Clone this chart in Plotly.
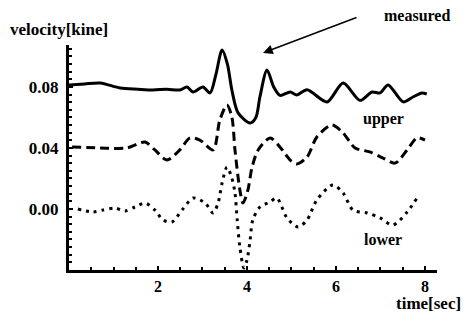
import plotly.graph_objects as go

# measured (solid)
t_measured = [0.0, 0.35, 0.70, 1.15, 1.55, 1.89, 2.20, 2.49, 2.65, 2.79, 3.01, 3.17,
              3.30, 3.44, 3.56, 3.66, 3.80, 4.07, 4.20, 4.29, 4.45, 4.60, 4.74, 4.97,
              5.12, 5.35, 5.80, 6.16, 6.54, 6.81, 6.99, 7.17, 7.51, 7.73, 7.93, 8.04]
v_measured = [0.0813, 0.0820, 0.0826, 0.0793, 0.0785, 0.0780, 0.0785, 0.0780, 0.0800, 0.0767, 0.0800, 0.0761,
              0.0880, 0.1043, 0.0950, 0.0780, 0.0630, 0.0564, 0.0600, 0.0734, 0.0911, 0.0800, 0.0745, 0.0767,
              0.0748, 0.0782, 0.0702, 0.0826, 0.0712, 0.0767, 0.0761, 0.0813, 0.0702, 0.0734, 0.0761, 0.0754]

# upper (dashed)
t_upper = [0.07, 0.70, 1.30, 1.71, 1.93, 2.20, 2.49, 2.72, 2.94, 3.24, 3.39, 3.55,
           3.66, 3.73, 3.84, 3.91, 4.02, 4.11, 4.25, 4.52, 4.74, 4.97, 5.12, 5.35,
           5.57, 5.91, 6.16, 6.43, 6.76, 7.06, 7.33, 7.60, 7.82, 8.00]
v_upper = [0.0407, 0.0400, 0.0400, 0.0439, 0.0387, 0.0321, 0.0387, 0.0466, 0.0452, 0.0387, 0.0584, 0.0682,
           0.0603, 0.0387, 0.0124, 0.0039, 0.0124, 0.0269, 0.0387, 0.0466, 0.0407, 0.0321, 0.0295, 0.0341,
           0.0472, 0.0551, 0.0498, 0.0400, 0.0374, 0.0334, 0.0301, 0.0387, 0.0466, 0.0452]

# lower (dotted)
t_lower = [0.20, 0.54, 0.76, 1.03, 1.26, 1.48, 1.71, 1.93, 2.11, 2.31, 2.54, 2.79,
           3.06, 3.24, 3.35, 3.44, 3.55, 3.66, 3.73, 3.78, 3.84, 3.93, 4.00, 4.07,
           4.13, 4.29, 4.52, 4.67, 4.90, 5.15, 5.35, 5.57, 5.93, 6.16, 6.38, 6.70,
           6.99, 7.28, 7.60, 7.82]
v_lower = [0.0000, -0.0020, -0.0007, 0.0006, -0.0013, 0.0013, 0.0039, -0.0007, -0.0072, -0.0086, -0.0007, 0.0072,
           0.0039, -0.0026, 0.0039, 0.0170, 0.0275, 0.0203, 0.0105, -0.0072, -0.0250, -0.0387, -0.0335, -0.0204,
           -0.0072, 0.0013, 0.0046, 0.0072, -0.0059, -0.0118, -0.0072, 0.0059, 0.0157, 0.0105, -0.0007, -0.0026,
           -0.0059, -0.0105, -0.0020, 0.0072]

x_tickvals = [2, 4, 6, 8]
x_ticktext = ["2", "4", "6", "8"]
y_tickvals = [0.0, 0.04, 0.08]
y_ticktext = ["0.00", "0.04", "0.08"]

FONT = "Liberation Serif, Times New Roman, serif"

fig = go.Figure()
fig.add_trace(go.Scatter(x=t_measured, y=v_measured, mode="lines", name="measured",
                         line=dict(color="black", width=3, shape="spline", smoothing=0.8)))
fig.add_trace(go.Scatter(x=t_upper, y=v_upper, mode="lines", name="upper",
                         line=dict(color="black", width=3, shape="spline", smoothing=0.8, dash="9px,5px")))
fig.add_trace(go.Scatter(x=t_lower, y=v_lower, mode="lines", name="lower",
                         line=dict(color="black", width=3, shape="spline", smoothing=0.8, dash="3px,5px")))

fig.update_layout(
    width=466, height=313,
    margin=dict(l=69, r=29, t=45, b=43),
    plot_bgcolor="white", paper_bgcolor="white",
    showlegend=False,
    font=dict(family=FONT, color="black"),
)

fig.update_xaxes(
    range=[0, 8.27], tickmode="array", tickvals=x_tickvals, ticktext=x_ticktext,
    ticks="inside", ticklen=4, tickwidth=2, tickcolor="black",
    showline=True, linewidth=3, linecolor="black",
    showgrid=False, zeroline=False,
    minor=dict(tick0=0, dtick=0.5, ticks="inside", ticklen=3, tickwidth=2, tickcolor="black", showgrid=False),
    tickfont=dict(family=FONT, size=16, color="black", weight="bold"),
)
fig.update_yaxes(
    range=[-0.04, 0.1075], tickmode="array", tickvals=y_tickvals, ticktext=y_ticktext,
    ticks="inside", ticklen=4, tickwidth=2, tickcolor="black",
    showline=True, linewidth=3, linecolor="black",
    showgrid=False, zeroline=False,
    minor=dict(tick0=0, dtick=0.005, ticks="inside", ticklen=3, tickwidth=2, tickcolor="black", showgrid=False),
    tickfont=dict(family=FONT, size=17, color="black", weight="bold"),
    ticklabelstandoff=4,
)

lbl = dict(family=FONT, size=16, color="black", weight="bold")
fig.add_annotation(text="velocity[kine]", xref="paper", yref="paper", x=-0.166, y=1.071,
                   xanchor="left", yanchor="middle", showarrow=False,
                   font=dict(family=FONT, size=17, color="black", weight="bold"))
fig.add_annotation(text="time[sec]", xref="paper", yref="paper", x=1.071, y=-0.147,
                   xanchor="right", yanchor="middle", showarrow=False,
                   font=dict(family=FONT, size=17, color="black", weight="bold"))
fig.add_annotation(text="measured", xref="paper", yref="paper", x=0.946, y=1.133,
                   xanchor="center", yanchor="middle", showarrow=False, font=lbl)
fig.add_annotation(text="upper", xref="x", yref="y", x=7.06, y=0.059,
                   xanchor="center", yanchor="middle", showarrow=False, font=lbl)
fig.add_annotation(text="lower", xref="x", yref="y", x=7.06, y=-0.020,
                   xanchor="center", yanchor="middle", showarrow=False, font=lbl)
fig.add_annotation(text="", xref="x", yref="y", x=4.36, y=0.1023,
                   axref="pixel", ayref="pixel", ax=95, ay=-36,
                   showarrow=True, arrowhead=2, arrowsize=1.3, arrowwidth=1.5, arrowcolor="black")

fig.write_html("out.html", config={"displayModeBar": False},
               post_script="document.body.style.margin='0';")
